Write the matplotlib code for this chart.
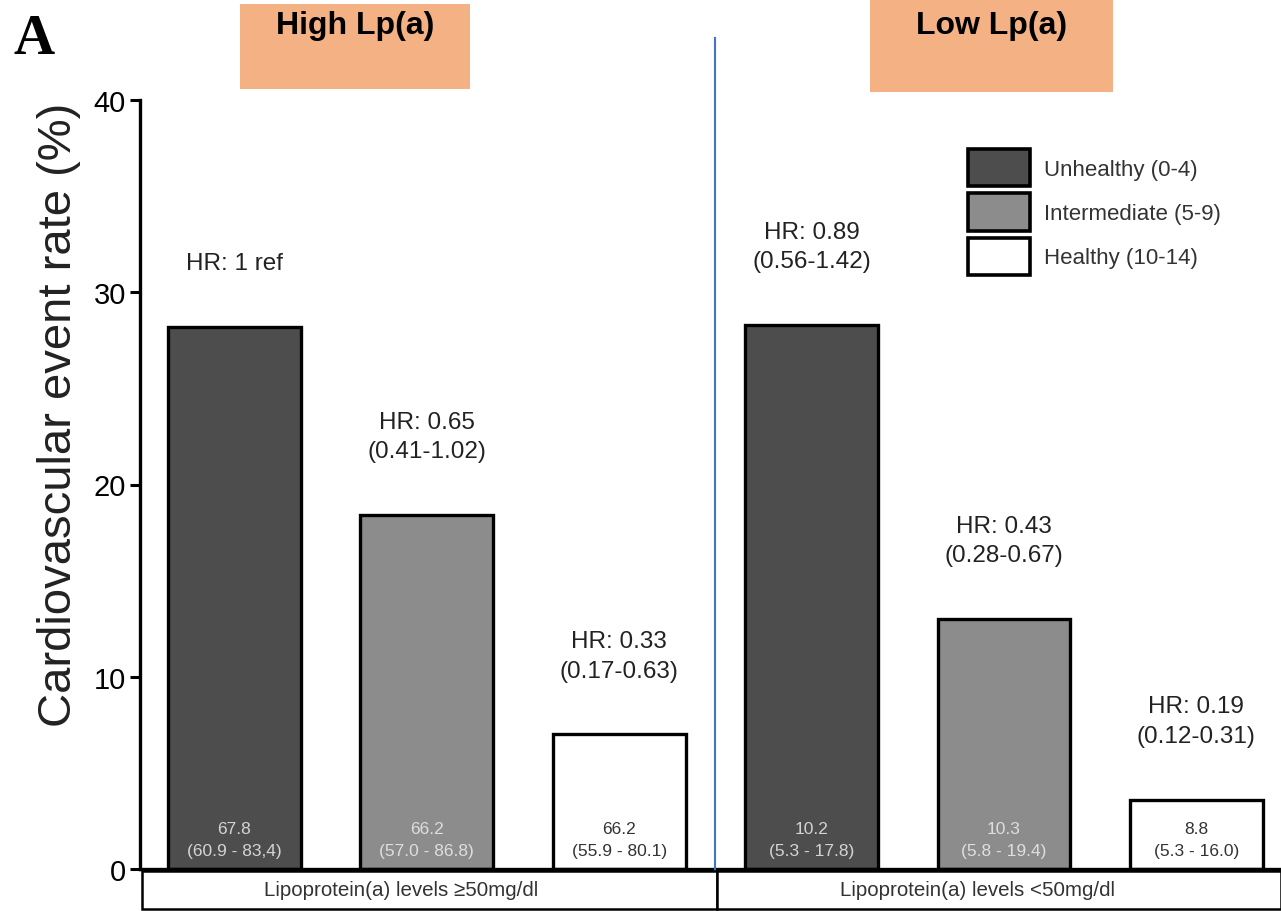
import matplotlib
matplotlib.use("Agg")
import matplotlib.pyplot as plt
from matplotlib.patches import Rectangle, Patch
import numpy as np

plt.rcParams['font.family'] = ['Liberation Sans', 'DejaVu Sans']

categories = ['Unhealthy (0-4)', 'Intermediate (5-9)', 'Healthy (10-14)']
groups = ['Lipoprotein(a) levels \u226550mg/dl', 'Lipoprotein(a) levels <50mg/dl']
headers = ['High Lp(a)', 'Low Lp(a)']
high_rates = [28.2, 18.4, 7.0]
low_rates = [28.3, 13.0, 3.6]
hr_high = ['HR: 1 ref', 'HR: 0.65\n(0.41-1.02)', 'HR: 0.33\n(0.17-0.63)']
hr_low = ['HR: 0.89\n(0.56-1.42)', 'HR: 0.43\n(0.28-0.67)', 'HR: 0.19\n(0.12-0.31)']
inner_high = ['67.8\n(60.9 - 83,4)', '66.2\n(57.0 - 86.8)', '66.2\n(55.9 - 80.1)']
inner_low = ['10.2\n(5.3 - 17.8)', '10.3\n(5.8 - 19.4)', '8.8\n(5.3 - 16.0)']
yticks = [0, 10, 20, 30, 40]

colors = ['#4d4d4d', '#8c8c8c', '#ffffff']
inner_colors = ['#d4d4d4', '#dedede', '#333333']

W, H = 1281, 912
fig = plt.figure(figsize=(W / 100, H / 100), dpi=100)
ax = fig.add_axes([140 / W, 42 / H, (W - 140) / W, (870 - 101) / H])

rates = high_rates + low_rates
hrs = hr_high + hr_low
inners = inner_high + inner_low
x = np.arange(len(rates))
cols = colors * 2
icols = inner_colors * 2

ax.bar(x, rates, width=0.69, color=cols, edgecolor='black', linewidth=2.4, zorder=2)

for xi, r, t in zip(x, rates, hrs):
    ax.annotate(t, (xi, r), xytext=(0, 38), textcoords='offset points',
                ha='center', va='bottom', fontsize=17.5, color='#222222',
                linespacing=1.45)
for xi, t, c in zip(x, inners, icols):
    ax.annotate(t, (xi, 0), xytext=(0, 8), textcoords='offset points',
                ha='center', va='bottom', fontsize=12.5, color=c,
                linespacing=1.55, zorder=3)

ax.set_xlim(-0.491, 5.44)
ax.set_ylim(0, 40)
ax.set_yticks(yticks)
ax.set_xticks([])
ax.tick_params(axis='y', length=7, width=2.2, labelsize=21, pad=3, colors='black')
for s in ['top', 'right']:
    ax.spines[s].set_visible(False)
ax.spines['left'].set_linewidth(2.4)
ax.spines['bottom'].set_linewidth(2.4)
ax.set_ylabel('Cardiovascular event rate (%)', fontsize=34, color='#222222')
ax.yaxis.set_label_coords(-0.052, 0.592)

# separator line
ax.plot([2.5, 2.5], [43.2, -0.8], color='#4472C4', linewidth=1.5, clip_on=False, zorder=4)

# bottom group boxes
for (x0, x1, xc), g in zip([(142, 717, 401), (717, 1281, 977)], groups):
    fig.add_artist(Rectangle((x0 / W, 2 / H), (x1 - x0) / W, 38 / H,
                             transform=fig.transFigure, facecolor='white',
                             edgecolor='black', linewidth=1.8))
    fig.text(xc / W, 21 / H, g, ha='center', va='center',
             fontsize=14.8, color='#333333')

# header boxes
for (x0, x1, y0, y1), h in zip([(240, 470, 5, 90), (870, 1113, 0, 93)], headers):
    fig.add_artist(Rectangle((x0 / W, (H - y1) / H), (x1 - x0) / W, (y1 - y0) / H,
                             transform=fig.transFigure, facecolor='#F4B183',
                             edgecolor='none'))
    fig.text((x0 + x1) / 2 / W, (H - 26) / H, h, ha='center', va='center',
             fontsize=23, fontweight='bold', color='black')

fig.text(14 / W, (H - 40) / H, 'A', ha='left', va='center', fontsize=41,
         fontweight='bold', family=['Liberation Serif', 'DejaVu Serif'])

handles = [Patch(facecolor=c, edgecolor='black', linewidth=2.6) for c in colors]
fig.legend(handles, categories, loc='upper left',
           bbox_to_anchor=(968 / W, (H - 150) / H), frameon=False,
           fontsize=16, handlelength=2.8, handleheight=2.2,
           labelspacing=0.32, handletextpad=0.6, borderpad=0, borderaxespad=0,
           labelcolor='#333333')

fig.savefig('out.png', dpi=100)
